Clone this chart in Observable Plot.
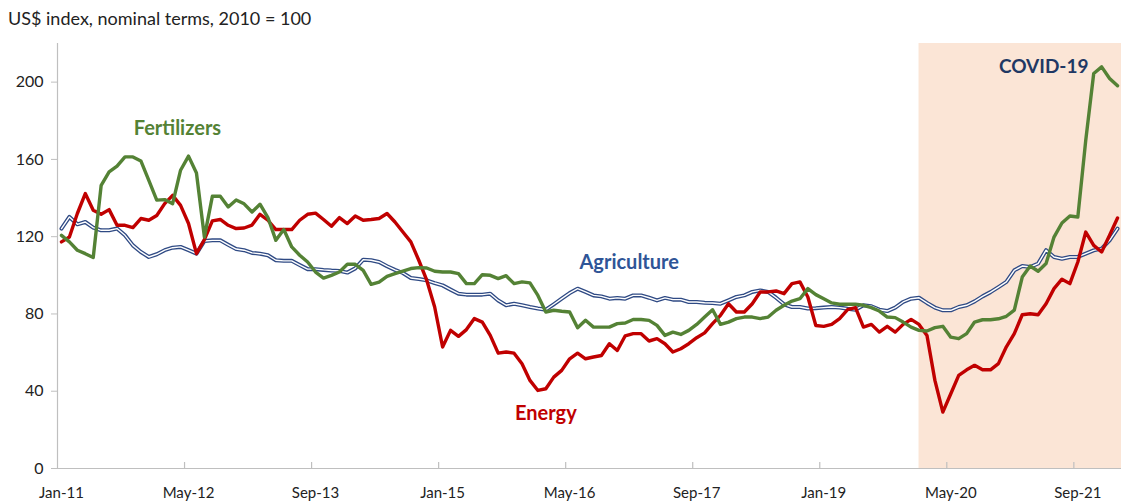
<!DOCTYPE html>
<html><head><meta charset="utf-8">
<script src="https://cdn.jsdelivr.net/npm/d3@7"></script>
<script src="https://cdn.jsdelivr.net/npm/@observablehq/plot@0.6"></script>
<style>
html,body{margin:0;padding:0;background:#fff;}
#title{height:30px;line-height:36px;padding-left:8px;font-family:Lato,"Open Sans",sans-serif;font-size:18px;color:#222;white-space:nowrap;overflow:hidden;}
</style></head><body>
<div id="title">US$ index, nominal terms, 2010 = 100</div>
<div id="chart"></div>
<script>
// Monthly series, Jan-11 onwards
const energy = [117.3,119.8,132,142.3,133.7,131.6,134,125.9,125.9,124.7,129.4,128.5,131,137.1,141.4,136.2,126.8,111.2,118.5,128.2,128.9,125.9,124.2,124.5,
126,131.6,128.5,123.7,123.7,123.7,128.5,131.6,132.2,128.9,125.4,129.9,126.8,130.7,128.5,128.9,129.4,132,127.6,122.4,117.3,107.8,97.5,83.6,
62.9,71.5,68.4,71.9,77.6,75.8,68.9,59.7,60.3,59.7,54.2,45.6,40.4,41.3,47.3,50.8,56.8,59.7,56.8,57.7,58.5,64.6,61.1,68.7,
69.8,69.8,66,67.2,64.6,60.3,62,64.6,67.7,70.2,75,79.3,85.3,81,81,85.3,91.4,91.4,91.9,90.5,95.7,96.6,88.8,74,
73.6,74.6,77.6,82.2,83.3,73.2,74.6,70.6,73.6,70.6,74.6,77.2,74.6,68.9,45.6,29.2,38.7,48.2,51.1,53.4,51.1,51.1,54.3,63,
69.8,79.6,80.1,79.6,85.3,93.1,98,95.7,106.9,122.4,115.5,112.1,120.7,129.7];
const agriculture = [124.2,130.2,126.4,127.6,124.7,123.3,123.3,124.2,120.7,115.5,112.1,109.5,110.9,113,114.3,114.7,113,111.2,117.8,118.1,118.1,115.8,113.6,113,
111.6,111.2,110.4,107.8,107.5,107.5,105.3,103.2,103.2,102.8,102.5,102.3,101.4,103.6,108.1,107.8,106.9,104.7,102.8,101.2,98.6,98.1,97.4,96,
94.8,92.6,90.5,90,90,90,90.5,87,84.5,85.3,84.5,83.6,82.8,82.2,85,87.9,90.8,93.1,91.4,89.6,89.1,87.9,88.3,87.9,
89.6,89.6,88.4,87,88.3,87.4,87.4,86.2,86.2,85.8,85.7,85.3,87,88.8,89.6,91.4,92.2,91.4,88.4,85,83.6,83.6,82.8,83,
83.3,83.6,83.3,82.7,82.2,84.5,84,82.2,81.5,83.3,86.2,87.9,88.4,85.7,83.3,81.9,81.9,83.6,84.5,86.5,89.1,91.3,93.9,96.6,
102.6,104.8,104.3,106.1,113,109.5,108.6,109.5,109.5,111.2,112.9,113.8,118.1,124.2];
const fertilizers = [120.7,117.3,113,111.2,109.2,146.6,153.5,156.5,161.3,161.3,159.2,149.2,138.9,139.2,137.1,154.4,161.7,153,119.8,140.9,140.9,135.4,139,137,
132.8,136.8,129.9,118.1,123.7,114.7,110.4,106.9,101.7,98.6,100,101.7,105.7,105.7,102.6,95.3,96.5,99.5,100.9,102.2,103.5,104,103.8,102.1,
101.7,101.7,100.9,95.7,95.7,100.3,100,98.3,99.8,95.7,96.6,96.1,89.6,81,81.9,81.4,81,72.9,76.7,73.2,73.2,73.2,75,75.3,
77.1,77.1,76.7,74.1,68.9,70.6,69.4,71.5,74.6,78.4,82.2,74.6,75.8,77.6,78.4,78.4,77.6,78.4,81.9,84.5,86.7,87.9,93.1,90,
87.9,85.7,85,85,85,84.5,83.3,81.5,78.4,78.1,75.8,73.2,71.5,71.2,72.9,73.6,68,67.2,69.8,75.8,77,77,77.5,78.8,
82,99.1,104.8,102.1,106.1,119.8,127.1,130.7,130.2,170,204.5,207.9,201.9,198.1];

const tickLabels = ["Jan-11","May-12","Sep-13","Jan-15","May-16","Sep-17","Jan-19","May-20","Sep-21"];
const yTicks = [0,40,80,120,160,200];
const yMax = 220;
const covidStart = "Jan-20";
const seriesNames = ["Energy","Agriculture","Fertilizers"];
const seriesColors = ["#c00000","#2f4a84","#548235"];
const labelText = ["Fertilizers","Agriculture","Energy","COVID-19"];
const labelMonth = [14.6,71.5,61,123.7];
const labelValue = [176.2,106.7,28.5,207.8];
const labelColor = ["#548235","#2f5597","#c00000","#1f3864"];
const labelSize = [20,20,20,19];

const fmt = d3.utcFormat("%b-%y");
const months = energy.map((_, i) => fmt(new Date(Date.UTC(2011, i, 1))));
const idx = m => months.indexOf(m);
const xDomain = [-0.5, months.length - 0.5];

const rows = s => s.map((v, i) => ({i, v}));
const tickIdx = tickLabels.map(idx);
const boundaryTicks = tickIdx.slice(1).map(i => i - 0.5);
const labels = labelText.map((t, k) => ({t, x: labelMonth[k], y: labelValue[k], c: labelColor[k], s: labelSize[k]}));

const W = 1121, H = 473, mT = 13, mB = 35, mL = 57, mR = 0;

const chart = Plot.plot({
  width: W, height: H,
  marginTop: mT, marginBottom: mB, marginLeft: mL, marginRight: mR,
  style: {fontFamily: "Lato, 'Open Sans', sans-serif", fontSize: "15px", color: "#222", background: "#fff"},
  x: {type: "linear", domain: xDomain, axis: null},
  y: {domain: [0, yMax], axis: null},
  marks: [
    Plot.rect([{x1: idx(covidStart), x2: xDomain[1]}], {x1: "x1", x2: "x2", fill: "#fbe5d6"}),
    Plot.ruleY([0], {stroke: "#bfbfbf", strokeWidth: 1.2}),
    Plot.ruleX([xDomain[0]], {stroke: "#bfbfbf", strokeWidth: 1.2}),
    Plot.ruleX(boundaryTicks, {stroke: "#bfbfbf", strokeWidth: 1.2, insetTop: H - mT - mB - 6}),
    Plot.axisY({ticks: yTicks, tickSize: 6, tickPadding: 8, stroke: "#bfbfbf", fontSize: 16}),
    Plot.axisX({ticks: tickIdx, tickSize: 0, tickPadding: 19, tickFormat: i => months[i], fontSize: 15}),
    Plot.line(rows(agriculture), {x: "i", y: "v", stroke: seriesColors[1], strokeWidth: 4, strokeLinejoin: "round"}),
    Plot.line(rows(agriculture), {x: "i", y: "v", stroke: "#ffffff", strokeWidth: 1.4, strokeLinejoin: "round"}),
    Plot.line(rows(energy), {x: "i", y: "v", stroke: seriesColors[0], strokeWidth: 3.4, strokeLinejoin: "round"}),
    Plot.line(rows(fertilizers), {x: "i", y: "v", stroke: seriesColors[2], strokeWidth: 3.4, strokeLinejoin: "round"}),
    Plot.text(labels, {x: "x", y: "y", text: "t", fill: "c", fontWeight: "bold", fontSize: "s"})
  ]
});
document.getElementById("chart").appendChild(chart);
</script>
</body></html>
